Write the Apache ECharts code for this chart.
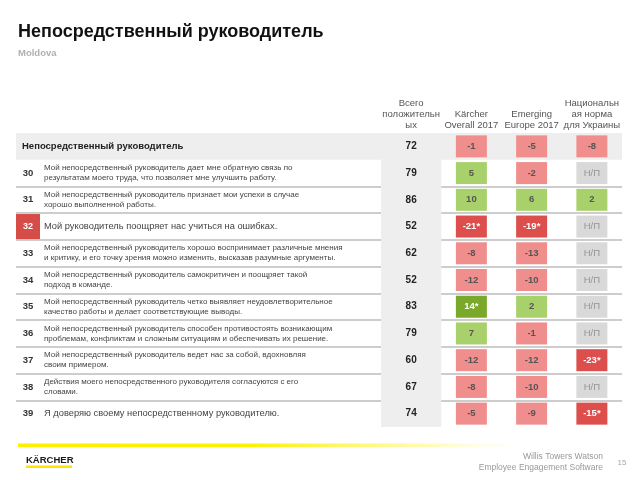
<!DOCTYPE html>
<html><head><meta charset="utf-8">
<script src="https://cdn.jsdelivr.net/npm/echarts@6/dist/echarts.min.js"></script>
<style>html,body{margin:0;padding:0;background:#fff}#c{width:640px;height:480px}</style>
</head><body><div id="c"></div>
<script>
// ---- data ----
const columns = ['Всего\nположительн\nых', 'Kärcher\nOverall 2017', 'Emerging\nEurope 2017', 'Национальн\nая норма\nдля Украины'];
const rowIds = ['Непосредственный руководитель', '30', '31', '32', '33', '34', '35', '36', '37', '38', '39'];
const questions = [
  '',
  'Мой непосредственный руководитель дает мне обратную связь по\nрезультатам моего труда, что позволяет мне улучшить работу.',
  'Мой непосредственный руководитель признает мои успехи в случае\nхорошо выполненной работы.',
  'Мой руководитель поощряет нас учиться на ошибках.',
  'Мой непосредственный руководитель хорошо воспринимает различные мнения\nи критику, и его точку зрения можно изменить, высказав разумные аргументы.',
  'Мой непосредственный руководитель самокритичен и поощряет такой\nподход в команде.',
  'Мой непосредственный руководитель четко выявляет неудовлетворительное\nкачество работы и делает соответствующие выводы.',
  'Мой непосредственный руководитель способен противостоять возникающим\nпроблемам, конфликтам и сложным ситуациям и обеспечивать их решение.',
  'Мой непосредственный руководитель ведет нас за собой, вдохновляя\nсвоим примером.',
  'Действия моего непосредственного руководителя согласуются с его\nсловами.',
  'Я доверяю своему непосредственному руководителю.'
];
const singleLineRows = ['32', '39'];
const highlightedRow = '32';
const totalPositive = [72, 79, 86, 52, 62, 52, 83, 79, 60, 67, 74];
const karcher     = [-1, 5, 10, -21, -8, -12, 14, 7, -12, -8, -5];
const karcherSig  = [0, 0, 0, 1, 0, 0, 1, 0, 0, 0, 0];
const emerging    = [-5, -2, 6, -19, -13, -10, 2, -1, -12, -10, -9];
const emergingSig = [0, 0, 0, 1, 0, 0, 0, 0, 0, 0, 0];
const national    = [-8, null, 2, null, null, null, null, null, -23, null, -15];
const nationalSig = [0, 0, 0, 0, 0, 0, 0, 0, 1, 0, 1];

// ---- build ----
const FONT = '"Liberation Sans", Arial, sans-serif';
const HEAD_GRAY = '#eeeeee';
const CLEAR = 'rgba(255,255,255,0)';

function cell(col, row, v, sig) {
  let bg, fg, weight = 'bold', t;
  if (v === null) { bg = '#d9d9d9'; fg = '#959595'; weight = 'normal'; t = 'Н/П'; }
  else {
    t = String(v) + (sig ? '*' : '');
    if (v < 0) { bg = sig ? '#dc4f4c' : '#ef8e8c'; }
    else { bg = sig ? '#79a82b' : '#a9d16b'; }
    fg = sig ? '#ffffff' : '#555555';
  }
  return { value: [col, row], t: t, itemStyle: { color: bg, opacity: 1 }, label: { color: fg, fontWeight: weight } };
}
const cellData = [];
[[karcher, karcherSig], [emerging, emergingSig], [national, nationalSig]].forEach((pair, ci) => {
  pair[0].forEach((v, ri) => cellData.push(cell(ci + 1, ri, v, pair[1][ri])));
});
const totalData = totalPositive.map((v, ri) => ({ value: [0, ri], t: String(v) }));

const rowAreaColors = rowIds.map((_, i) => i === 0 ? HEAD_GRAY : CLEAR);
const colAreaColors = columns.map((_, i) => i === 0 ? HEAD_GRAY : CLEAR);
const sepLine = {
  show: true, showMaxLine: false,
  interval: (idx) => idx >= 2,
  lineStyle: { color: '#bdbdbd', width: 1.5 }
};

const chart = echarts.init(document.getElementById('c'), null, { renderer: 'canvas' });
chart.setOption({
  animation: false,
  textStyle: { fontFamily: FONT },
  title: {
    text: 'Непосредственный руководитель', subtext: 'Moldova',
    left: 18, top: 23, padding: 0, itemGap: 7,
    textStyle: { fontSize: 18, fontWeight: 'bold', color: '#111', fontFamily: FONT },
    subtextStyle: { fontSize: 9.5, fontWeight: 'bold', color: '#b0b0b0', fontFamily: FONT }
  },
  grid: [
    { left: 16, right: 259, top: 133, bottom: 53 },
    { left: 381, right: 18, top: 133, bottom: 53 }
  ],
  xAxis: [
    { gridIndex: 0, type: 'category', data: ['q'], show: false },
    { gridIndex: 1, type: 'category', data: columns, position: 'top',
      axisLine: { show: false }, axisTick: { show: false },
      axisLabel: { interval: 0, fontSize: 9.5, color: '#555', lineHeight: 10.7, margin: 2.5, fontFamily: FONT },
      splitArea: { show: true, interval: 0, areaStyle: { color: colAreaColors } } }
  ],
  yAxis: [
    { gridIndex: 0, type: 'category', inverse: true, data: rowIds, position: 'left',
      axisLine: { show: false }, axisTick: { show: false },
      axisLabel: {
        inside: true, margin: 0, align: 'left', interval: 0,
        formatter: (v, i) => i === 0 ? '{h|' + v + '}' : (v === highlightedRow ? '{r|' + v + '}' : '{n|' + v + '}'),
        rich: {
          h: { fontSize: 9.5, fontWeight: 'bold', color: '#222', padding: [0, 0, 0, 6], fontFamily: FONT },
          n: { fontSize: 9.5, fontWeight: 'bold', color: '#333', width: 24, align: 'center', fontFamily: FONT },
          r: { fontSize: 9, fontWeight: 'bold', color: '#fff', backgroundColor: '#d64c47', width: 24, height: 25, lineHeight: 25, align: 'center', fontFamily: FONT }
        }
      },
      splitLine: sepLine,
      splitArea: { show: true, interval: 0, areaStyle: { color: rowAreaColors } } },
    { gridIndex: 0, type: 'category', inverse: true, data: rowIds, position: 'left', offset: 0,
      axisLine: { show: false }, axisTick: { show: false },
      axisLabel: {
        inside: true, margin: 28, align: 'left', interval: 0,
        fontSize: 8, lineHeight: 10, color: '#444',
        formatter: (v, i) => singleLineRows.indexOf(v) >= 0 ? '{b|' + questions[i] + '}' : questions[i],
        rich: { b: { fontSize: 9.3, color: '#444', fontFamily: FONT } }
      },
      splitLine: { show: false } },
    { gridIndex: 1, type: 'category', inverse: true, data: rowIds,
      axisLine: { show: false }, axisTick: { show: false }, axisLabel: { show: false },
      splitLine: sepLine,
      splitArea: { show: true, interval: 0, areaStyle: { color: rowAreaColors } } }
  ],
  series: [
    { type: 'scatter', xAxisIndex: 1, yAxisIndex: 2, symbol: 'rect', symbolSize: [31, 22],
      data: cellData, silent: true, itemStyle: { opacity: 1 },
      label: { show: true, position: 'inside', fontSize: 9.5, formatter: p => p.data.t, fontFamily: FONT } },
    { type: 'scatter', xAxisIndex: 1, yAxisIndex: 2, symbolSize: 1, itemStyle: { color: CLEAR, opacity: 1 },
      data: totalData, silent: true,
      label: { show: true, position: 'inside', fontSize: 10, fontWeight: 'bold', color: '#222', formatter: p => p.data.t, fontFamily: FONT } }
  ],
  graphic: [
    { type: 'rect', shape: { x: 18, y: 443.5, width: 520, height: 3.5 },
      style: { fill: new echarts.graphic.LinearGradient(0, 0, 1, 0, [
        { offset: 0, color: '#ffee00' }, { offset: 0.45, color: '#fff000' },
        { offset: 0.8, color: 'rgba(255,245,60,0.35)' }, { offset: 1, color: 'rgba(255,255,255,0)' }]) } },
    { type: 'text', x: 26, y: 460, style: { text: 'KÄRCHER', fontSize: 9.5, fontWeight: 'bold', fill: '#1a1a1a', verticalAlign: 'middle', fontFamily: FONT } },
    { type: 'rect', shape: { x: 26, y: 465.5, width: 46, height: 2.5 }, style: { fill: '#ffe600' } },
    { type: 'text', x: 603, y: 457, style: { text: 'Willis Towers Watson', fontSize: 8.5, fill: '#999', align: 'right', verticalAlign: 'middle', fontFamily: FONT } },
    { type: 'text', x: 603, y: 468, style: { text: 'Employee Engagement Software', fontSize: 8.5, fill: '#999', align: 'right', verticalAlign: 'middle', fontFamily: FONT } },
    { type: 'text', x: 622, y: 463, style: { text: '15', fontSize: 8, fill: '#a8a8a8', align: 'center', verticalAlign: 'middle', fontFamily: FONT } }
  ]
});
</script></body></html>
